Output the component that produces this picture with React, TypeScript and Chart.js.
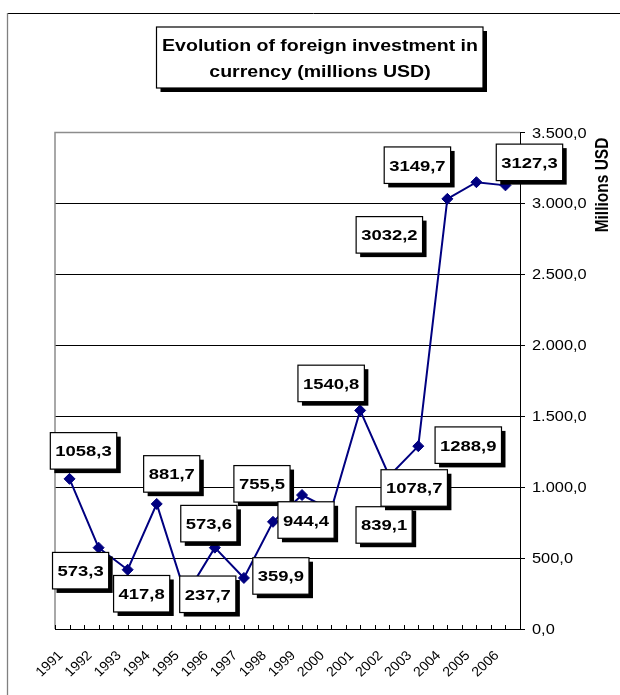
import React, { useEffect, useRef } from 'react';
import { Chart, registerables } from 'chart.js';

Chart.register(...registerables);

const years = ['1991', '1992', '1993', '1994', '1995', '1996', '1997', '1998', '1999', '2000', '2001', '2002', '2003', '2004', '2005', '2006'];
const investment = [1058.3, 573.3, 417.8, 881.7, 237.7, 573.6, 359.9, 755.5, 944.4, 839.1, 1540.8, 1078.7, 1288.9, 3032.2, 3149.7, 3127.3];
const yTickValues = [0, 500, 1000, 1500, 2000, 2500, 3000, 3500];
const titleLines = ['Evolution of foreign investment in', 'currency (millions USD)'];
const yAxisTitle = 'Millions USD';
// label box centre offsets (px) from each point
const labelOffsets: [number, number][] = [
  [14, -28], [-18, 23], [14, 24], [15, -30], [22, -1], [-6, -24], [37, -2], [-11, -38],
  [4, 25], [53, 15], [-29, -27], [25, 12], [50, -1], [-58, 36], [-59, -17], [24, -23],
];

const W = 620;
const H = 695;
const SX = 1.19;
const FONT = '"Liberation Sans", Arial, sans-serif';

function fmtTick(v: number): string {
  const [i, d] = v.toFixed(1).split('.');
  return i.replace(/\B(?=(\d{3})+(?!\d))/g, '.') + ',' + d;
}
function fmtLabel(v: number): string {
  return v.toFixed(1).replace('.', ',');
}

function drawText(ctx: CanvasRenderingContext2D, text: string, x: number, y: number, font: string,
  align: CanvasTextAlign, baseline: CanvasTextBaseline, sx = SX, rot = 0) {
  ctx.save();
  ctx.translate(x, y);
  ctx.scale(sx, 1);
  if (rot) ctx.rotate(rot);
  ctx.font = font;
  ctx.textAlign = align;
  ctx.textBaseline = baseline;
  ctx.fillStyle = '#000';
  ctx.fillText(text, 0, 0);
  ctx.restore();
}

function textWidth(ctx: CanvasRenderingContext2D, text: string, font: string, sx = SX) {
  ctx.save();
  ctx.font = font;
  const w = ctx.measureText(text).width * sx;
  ctx.restore();
  return w;
}

function shadowBox(ctx: CanvasRenderingContext2D, x: number, y: number, w: number, h: number, sh = 4) {
  ctx.save();
  ctx.fillStyle = '#000';
  ctx.fillRect(x + sh, y + sh, w, h);
  ctx.fillStyle = '#fff';
  ctx.fillRect(x, y, w, h);
  ctx.strokeStyle = '#000';
  ctx.lineWidth = 1.2;
  ctx.strokeRect(x, y, w, h);
  ctx.restore();
}

const decorPlugin = {
  id: 'decor',
  beforeDraw(chart: any) {
    const ctx: CanvasRenderingContext2D = chart.ctx;
    ctx.save();
    ctx.fillStyle = '#fff';
    ctx.fillRect(0, 0, chart.width, chart.height);
    // outer frame (top and left visible)
    ctx.strokeStyle = '#000';
    ctx.lineWidth = 1;
    ctx.beginPath();
    ctx.moveTo(7, 13.5);
    ctx.lineTo(chart.width, 13.5);
    ctx.stroke();
    ctx.strokeStyle = '#808080';
    ctx.lineWidth = 1.3;
    ctx.beginPath();
    ctx.moveTo(7.5, 13);
    ctx.lineTo(7.5, chart.height);
    ctx.stroke();
    ctx.restore();
    // title box
    shadowBox(ctx, 156.5, 27, 326.5, 61);
    const tf = `bold 16.3px ${FONT}`;
    drawText(ctx, titleLines[0], 320, 50.7, tf, 'center', 'alphabetic', 1.2);
    drawText(ctx, titleLines[1], 320, 77.3, tf, 'center', 'alphabetic', 1.2);
  },
  beforeDatasetsDraw(chart: any) {
    const ctx: CanvasRenderingContext2D = chart.ctx;
    const { left, top, bottom, right } = chart.chartArea;
    const xs = chart.scales.x;
    ctx.save();
    // gray plot border top & left
    ctx.strokeStyle = '#8c8c8c';
    ctx.lineWidth = 1.5;
    ctx.beginPath();
    ctx.moveTo(left, bottom);
    ctx.lineTo(left, top);
    ctx.lineTo(right, top);
    ctx.stroke();
    // x tick marks at centres and boundaries (inside)
    const c0 = xs.getPixelForTick(0);
    const c1 = xs.getPixelForTick(1);
    const half = (c1 - c0) / 2;
    ctx.strokeStyle = '#000';
    ctx.lineWidth = 1;
    ctx.beginPath();
    for (let i = 0; i < years.length; i++) {
      const cx = xs.getPixelForTick(i);
      for (const px of [cx - half, cx]) {
        const ax = Math.round(px) + 0.5;
        ctx.moveTo(ax, bottom);
        ctx.lineTo(ax, bottom - 4);
      }
    }
    ctx.stroke();
    ctx.restore();
  },
  afterDatasetsDraw(chart: any) {
    const ctx: CanvasRenderingContext2D = chart.ctx;
    const meta = chart.getDatasetMeta(0);
    const ys = chart.scales.y;
    const xs = chart.scales.x;
    const lf = `bold 15.5px ${FONT}`;
    // data labels
    meta.data.forEach((pt: any, i: number) => {
      const txt = fmtLabel(investment[i]);
      const [dx, dy] = labelOffsets[i];
      const cx = pt.x + dx;
      const cy = pt.y + dy;
      const tw = textWidth(ctx, txt, lf);
      const bw = tw + 10;
      const bh = 36.5;
      shadowBox(ctx, cx - bw / 2, cy - bh / 2, bw, bh);
      drawText(ctx, txt, cx, cy + 5.5, lf, 'center', 'alphabetic');
    });
    // y tick labels
    const tf = `14px ${FONT}`;
    yTickValues.forEach((v) => {
      const y = ys.getPixelForValue(v);
      drawText(ctx, fmtTick(v), ys.left + 12, y + 5, tf, 'left', 'alphabetic', 1.17);
    });
    // y axis title
    drawText(ctx, yAxisTitle, 603, 185, `bold 15.5px ${FONT}`, 'center', 'middle', 1.19, -Math.PI / 2);
    // x tick labels
    const xf = `13.5px ${FONT}`;
    years.forEach((yr, i) => {
      const cx = xs.getPixelForTick(i);
      drawText(ctx, yr, cx - 8.7, 653.5, xf, 'right', 'middle', 1.05, -Math.PI / 4);
    });
  },
};

export default function App() {
  const ref = useRef<HTMLCanvasElement | null>(null);
  useEffect(() => {
    if (!ref.current) return;
    const chart = new Chart(ref.current, {
      type: 'line',
      data: {
        labels: years,
        datasets: [
          {
            data: investment,
            borderColor: '#000080',
            backgroundColor: '#000080',
            borderWidth: 2,
            tension: 0,
            pointStyle: 'rectRot',
            pointRadius: 5.5,
            pointBackgroundColor: '#000080',
            pointBorderColor: '#000080',
            pointBorderWidth: 1,
            fill: false,
          },
        ],
      },
      options: {
        responsive: false,
        animation: false,
        devicePixelRatio: 1,
        layout: { padding: { left: 55, top: 132.5, right: 0, bottom: 0 } },
        plugins: {
          legend: { display: false },
          title: { display: false },
          tooltip: { enabled: false },
        },
        scales: {
          x: {
            type: 'category',
            offset: true,
            grid: { display: false },
            border: { display: true, color: '#000', width: 1 },
            ticks: { display: false },
            afterFit: (s: any) => { s.height = 66; },
          },
          y: {
            position: 'right',
            min: 0,
            max: 3500,
            ticks: { display: false, stepSize: 500 },
            grid: {
              color: (c: any) => (c.tick && c.tick.value === 3500 ? '#8c8c8c' : '#000'),
              tickColor: '#000',
              lineWidth: 1,
              drawTicks: true,
              tickLength: 5,
            },
            border: { display: true, color: '#000', width: 1 },
            afterFit: (s: any) => { s.width = 100; },
          },
        },
      },
      plugins: [decorPlugin],
    } as any);
    return () => chart.destroy();
  }, []);
  return (
    <div style={{ position: 'absolute', left: 0, top: 0, width: W, height: H }}>
      <canvas ref={ref} width={W} height={H} style={{ display: 'block', width: W, height: H }} />
    </div>
  );
}
